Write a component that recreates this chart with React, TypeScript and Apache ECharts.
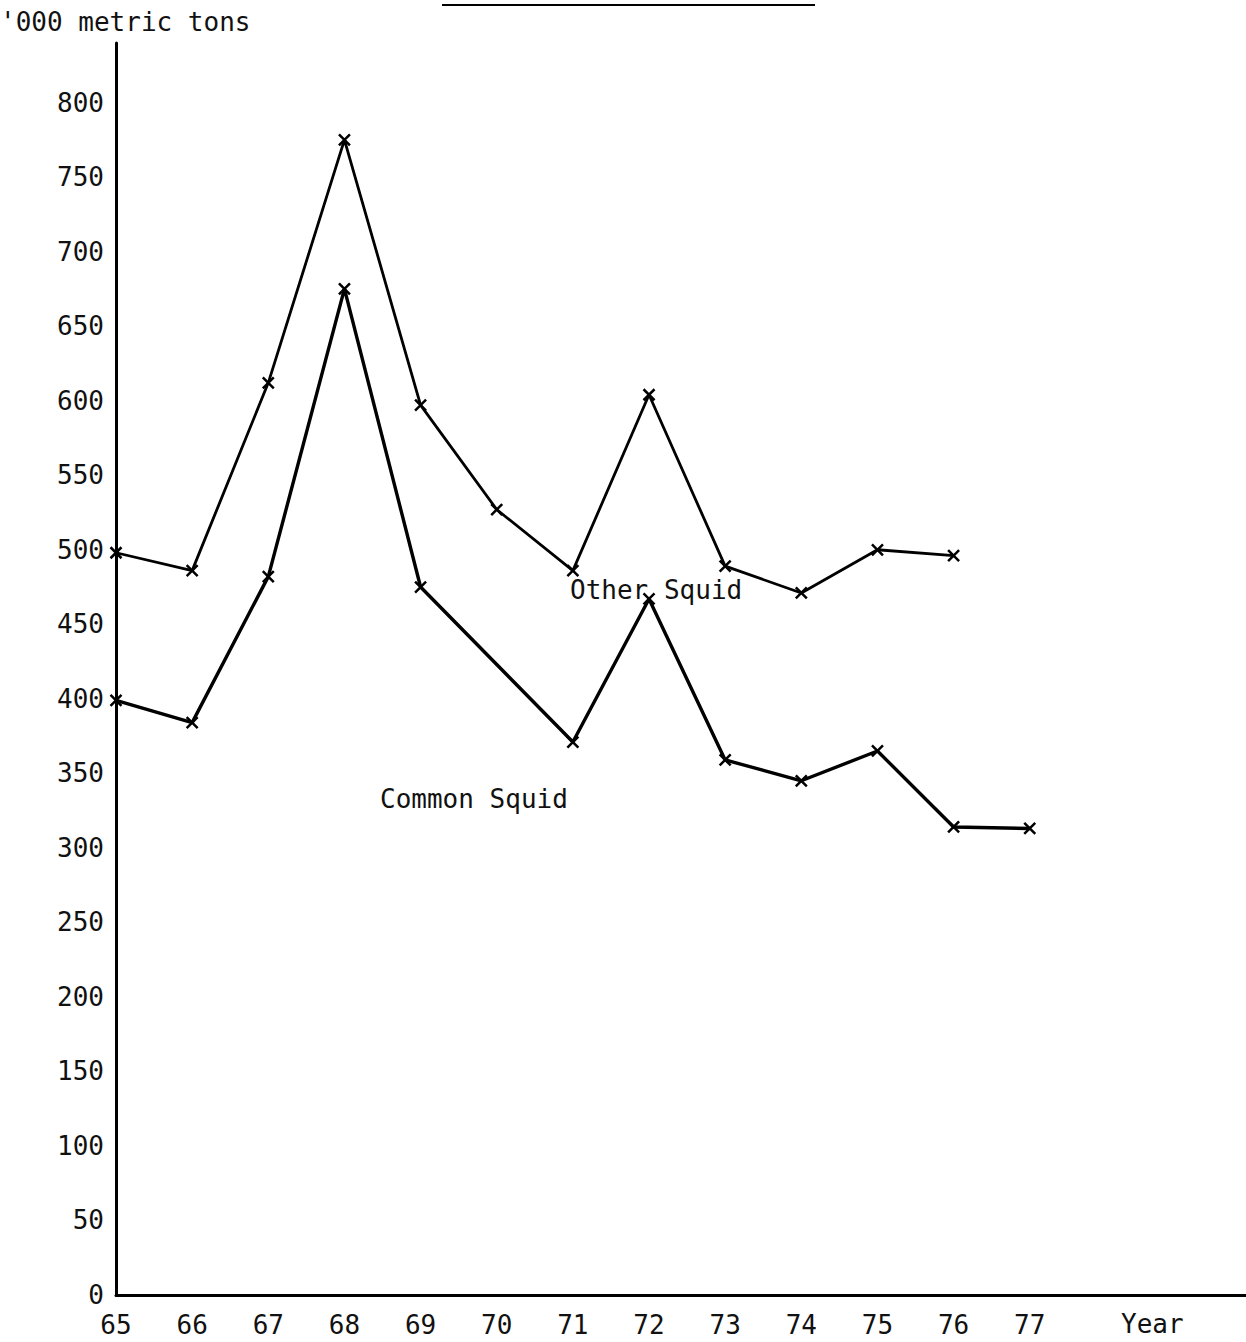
import React, { useEffect, useRef } from "react";
import * as echarts from "echarts";

const years = [65, 66, 67, 68, 69, 70, 71, 72, 73, 74, 75, 76, 77];
const otherSquid = [498, 486, 612, 775, 597, 527, 486, 604, 489, 471, 500, 496, null];
const commonSquid = [399, 384, 482, 675, 475, null, 371, 467, 359, 345, 365, 314, 313];
const yTicks = [0, 50, 100, 150, 200, 250, 300, 350, 400, 450, 500, 550, 600, 650, 700, 750, 800];

const FONT = "DejaVu Sans Mono";
const CROSS = "path://M0,0L10,10M10,0L0,10";

export default function App() {
  const ref = useRef<HTMLDivElement>(null);
  useEffect(() => {
    if (!ref.current) return;
    const chart = echarts.init(ref.current, null, { renderer: "svg" });
    const toPairs = (arr: (number | null)[]) => years.map((y, i) => [y, arr[i]]);
    chart.setOption({
      animation: false,
      backgroundColor: "#ffffff",
      textStyle: { fontFamily: FONT, color: "#111" },
      grid: { left: 116, right: 0, top: 43, bottom: 47, containLabel: false },
      xAxis: {
        type: "value",
        min: 65,
        max: 79.84,
        interval: 1,
        axisLine: { show: true, onZero: false, lineStyle: { color: "#000", width: 3 } },
        axisTick: { show: false },
        splitLine: { show: false },
        axisLabel: {
          fontFamily: FONT,
          fontSize: 26,
          color: "#111",
          margin: 17,
          showMaxLabel: false,
          formatter: (v: number) => (years.indexOf(v) >= 0 ? String(v) : ""),
        },
      },
      yAxis: {
        type: "value",
        min: 0,
        max: 840,
        interval: 50,
        axisLine: { show: true, lineStyle: { color: "#000", width: 3 } },
        axisTick: { show: false },
        splitLine: { show: false },
        axisLabel: {
          fontFamily: FONT,
          fontSize: 26,
          color: "#111",
          margin: 12,
          formatter: (v: number) => (yTicks.indexOf(v) >= 0 ? String(v) : ""),
        },
      },
      series: [
        {
          name: "Other Squid",
          type: "line",
          data: toPairs(otherSquid),
          connectNulls: false,
          symbol: CROSS,
          symbolSize: 11,
          itemStyle: { color: "#000", borderColor: "#000", borderWidth: 2.5 },
          lineStyle: { color: "#000", width: 2.8 },
        },
        {
          name: "Common Squid",
          type: "line",
          data: toPairs(commonSquid),
          connectNulls: true,
          symbol: CROSS,
          symbolSize: 11,
          itemStyle: { color: "#000", borderColor: "#000", borderWidth: 2.5 },
          lineStyle: { color: "#000", width: 3.4 },
        },
      ],
      graphic: [
        { type: "line", shape: { x1: 442, y1: 5, x2: 815, y2: 5 }, style: { stroke: "#000", lineWidth: 2 } },
        { type: "text", left: 0, top: 9, style: { text: "'000 metric tons", fontFamily: FONT, fontSize: 26, fill: "#111" } },
        { type: "text", left: 570, top: 577, style: { text: "Other Squid", fontFamily: FONT, fontSize: 26, fill: "#111" } },
        { type: "text", left: 380, top: 786, style: { text: "Common Squid", fontFamily: FONT, fontSize: 26, fill: "#111" } },
        { type: "text", left: 1121, top: 1311, style: { text: "Year", fontFamily: FONT, fontSize: 26, fill: "#111" } },
      ],
    });
    return () => chart.dispose();
  }, []);
  return (
    <div
      ref={ref}
      style={{ position: "absolute", left: 0, top: 0, width: 1246, height: 1342, background: "#fff" }}
    />
  );
}
